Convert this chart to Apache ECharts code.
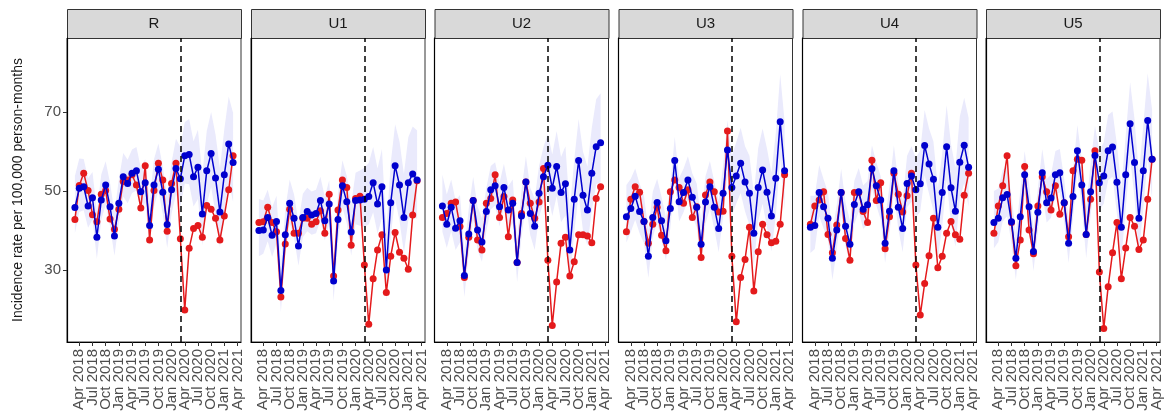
<!DOCTYPE html>
<html>
<head>
<meta charset="utf-8">
<script src="https://cdn.jsdelivr.net/npm/echarts@6/dist/echarts.min.js"></script>
<style>
  html, body { margin: 0; padding: 0; background: #fff; }
  #main { width: 1174px; height: 415px; }
</style>
</head>
<body>
<div id="main"></div>
<script>
// months counted from Jan 2018 = 0; data runs Mar 2018 .. Mar 2021
var firstMonth = 2;
var breakMonth = 26; // Mar 2020
var tickMonths = [3, 6, 9, 12, 15, 18, 21, 24, 27, 30, 33, 36, 39];
var tickLabels = ['Apr 2018', 'Jul 2018', 'Oct 2018', 'Jan 2019', 'Apr 2019', 'Jul 2019', 'Oct 2019',
                  'Jan 2020', 'Apr 2020', 'Jul 2020', 'Oct 2020', 'Jan 2021', 'Apr 2021'];
var yTicks = [30, 50, 70];
var panelNames = ['R', 'U1', 'U2', 'U3', 'U4', 'U5'];

// observed (red) and predicted (blue)
var obsR = [42.8,51.4,54.5,50.1,44.0,42.2,49.2,50.1,42.9,40.3,45.4,52.4,52.8,54.1,51.5,45.7,56.4,37.6,50.1,57.0,52.8,39.8,51.9,57.0,37.9,19.9,35.5,40.5,41.3,38.3,46.3,45.4,43.1,37.6,43.7,50.3,58.9];
var predR = [45.8,50.7,51.1,46.2,48.3,38.3,47.7,51.5,46.0,38.6,46.9,53.6,51.9,54.5,55.1,49.8,52.1,41.3,51.5,55.5,49.7,41.5,50.3,55.7,53.1,58.9,59.2,53.6,56.0,44.2,55.1,59.5,53.3,44.7,54.1,61.9,57.2];
var obsU1 = [42.0,42.2,45.9,42.0,39.7,23.2,36.6,45.4,39.3,39.3,43.1,43.1,41.6,42.2,45.0,39.3,49.2,28.5,45.2,52.8,50.9,36.3,48.1,48.7,31.3,16.3,27.8,35.1,38.9,24.3,33.5,39.5,34.5,33.0,30.2,43.9,52.6];
var predU1 = [40.0,40.1,43.3,38.8,42.3,24.8,38.9,46.9,43.1,36.1,43.3,44.8,43.9,44.3,47.6,42.5,46.7,27.2,42.8,51.3,47.3,39.6,47.6,47.7,47.9,48.6,52.1,46.7,51.1,30.0,47.0,56.4,51.5,43.3,52.1,54.3,52.8];
var obsU2 = [43.3,44.3,46.9,47.2,41.0,28.1,38.3,47.6,37.6,35.1,46.9,48.1,54.1,43.3,48.6,38.4,47.7,31.9,44.3,52.3,46.9,43.1,47.2,55.7,32.5,16.0,27.0,36.8,38.3,28.5,32.1,38.9,38.9,38.6,36.9,48.1,51.1];
var predU2 = [46.2,41.6,45.9,40.6,42.5,28.6,39.1,47.6,40.1,37.1,44.8,50.3,51.3,46.0,50.9,45.2,46.9,31.9,43.7,52.3,44.3,41.1,49.4,53.6,56.5,50.7,56.2,49.6,51.8,35.1,47.9,57.7,48.9,45.2,54.5,61.2,62.2];
var obsU3 = [39.7,47.9,51.1,49.7,42.3,36.8,41.6,45.9,38.8,34.9,49.8,52.8,50.9,46.9,50.3,43.3,46.0,33.2,49.0,52.3,49.8,44.7,44.9,65.2,33.5,16.9,28.1,32.7,40.8,24.7,34.6,41.6,38.9,36.9,37.3,41.6,54.1];
var predU3 = [43.5,45.6,48.7,44.8,42.3,33.5,43.3,47.1,42.5,37.4,45.6,57.7,47.3,49.6,52.8,48.4,45.9,36.5,47.2,51.1,45.9,40.5,49.4,60.4,50.9,53.8,57.0,52.3,49.4,39.3,50.9,55.3,49.7,43.7,53.2,67.5,55.1];
var obsU4 = [41.6,46.2,47.7,49.8,39.0,34.4,41.4,49.6,38.0,32.5,49.6,49.6,44.8,42.0,57.8,47.6,52.1,35.4,43.5,54.5,49.2,44.7,48.8,54.5,31.3,18.6,26.6,33.6,43.1,30.6,33.5,39.3,42.3,38.9,37.8,48.9,54.5];
var predU4 = [40.8,41.3,49.6,46.0,43.1,33.0,40.1,49.6,41.1,36.5,46.6,49.8,45.4,46.5,55.6,51.3,47.7,36.8,44.9,55.1,45.9,40.5,51.9,53.8,50.3,51.8,61.5,56.8,53.0,40.8,49.6,61.2,50.8,44.9,57.3,61.6,56.0];
var obsU5 = [39.3,46.2,51.3,58.9,42.0,31.1,37.6,56.2,40.1,34.1,46.2,53.6,49.8,45.2,51.3,44.1,47.0,38.4,55.1,58.0,57.8,39.0,47.9,60.2,29.5,15.2,25.8,34.4,42.0,27.8,35.6,43.3,41.1,35.2,37.6,47.9,58.0];
var predU5 = [42.0,43.1,48.3,49.1,42.2,33.0,43.5,54.1,46.0,34.7,44.6,54.6,47.0,48.2,54.1,54.6,47.0,36.8,48.6,60.2,51.5,39.0,49.8,59.0,52.1,53.8,60.2,61.1,52.2,40.8,54.1,67.0,57.2,43.1,55.1,67.8,58.0];

// half widths of the shaded interval around the blue line (above / below)
var bandUp = [8,7.5,7,7,6.5,6.5,6.5,6,6,6,6,6,6,6,6,6,6,6,6.5,6.5,6.5,7,7,7.5,8,8.5,9,9,9.5,10,10,10.5,11,11,11.5,12,12.5];
var bandDown = [6.5,6,6,5.5,5.5,5.5,5,5,5,5,5,5,5,5,5,5,5,5,5.5,5.5,5.5,6,6,6.5,7,7,7.5,7.5,8,8,8.5,8.5,9,9,9.5,9.5,10];

var obsList = [obsR, obsU1, obsU2, obsU3, obsU4, obsU5];
var predList = [predR, predU1, predU2, predU3, predU4, predU5];

var redCol = '#e41a1c';
var blueCol = '#0000cd';
var bandCol = '#eaeafc';
var font = "'Liberation Sans', Arial, sans-serif";

// layout
var lefts = [67, 251, 434.5, 618.5, 802.5, 986];
var pw = 174, top0 = 38, ph = 304;
var stripTop = 9, stripH = 29;

// labels are split over two overlaid axes so none get dropped as overlapping
var ticksA = tickMonths.filter(function(m, k) { return k % 2 === 0; });
var ticksB = tickMonths.filter(function(m, k) { return k % 2 === 1; });

function toPairs(arr) {
    return arr.map(function(v, i) { return [firstMonth + i, v]; });
}

function labelOf(v) { return tickLabels[tickMonths.indexOf(v)]; }

var grids = [], xAxes = [], yAxes = [], series = [], graphics = [];

panelNames.forEach(function(name, i) {
    grids.push({
        left: lefts[i], top: top0, width: pw, height: ph,
        show: true, borderColor: '#333', borderWidth: 1, backgroundColor: '#fff'
    });
    [ticksA, ticksB].forEach(function(tv, j) {
        xAxes.push({
            type: 'value', gridIndex: i, min: 0.2, max: 39.8, position: 'bottom', offset: 0,
            splitLine: { show: false },
            axisLine: { show: j === 0, onZero: false, lineStyle: { color: '#000', width: 1.2 } },
            axisTick: { show: j === 0, customValues: tickMonths, length: 4, lineStyle: { color: '#333' } },
            axisLabel: {
                customValues: tv, rotate: 90, margin: 7,
                showMinLabel: true, showMaxLabel: true, hideOverlap: false,
                fontSize: 15, color: '#4d4d4d', fontFamily: font,
                formatter: labelOf
            }
        });
    });
    var ya = {
        type: 'value', gridIndex: i, min: 11.8, max: 88.7,
        splitLine: { show: false },
        axisLine: { show: true, onZero: false, lineStyle: { color: '#000', width: 1.2 } },
        axisTick: { show: i === 0, customValues: yTicks, length: 4, lineStyle: { color: '#333' } },
        axisLabel: { show: i === 0, customValues: yTicks, fontSize: 15, color: '#4d4d4d', fontFamily: font, margin: 6 }
    };
    if (i === 0) {
        ya.name = 'Incidence rate per 100,000 person-months';
        ya.nameLocation = 'middle';
        ya.nameGap = 42;
        ya.nameRotate = 90;
        ya.nameTextStyle = { fontSize: 14, color: '#1a1a1a', fontFamily: font };
    }
    yAxes.push(ya);

    var xi = i * 2;
    var pred = predList[i];
    // shaded interval
    series.push({
        type: 'custom', xAxisIndex: xi, yAxisIndex: i, silent: true, z: 1,
        data: [[firstMonth, pred[0]]],
        renderItem: function(params, api) {
            var pts = [];
            for (var k = 0; k < pred.length; k++) pts.push(api.coord([firstMonth + k, pred[k] + bandUp[k]]));
            for (var k2 = pred.length - 1; k2 >= 0; k2--) pts.push(api.coord([firstMonth + k2, pred[k2] - bandDown[k2]]));
            return { type: 'polygon', shape: { points: pts }, style: { fill: bandCol } };
        }
    });
    series.push({
        type: 'line', xAxisIndex: xi, yAxisIndex: i, z: 3,
        data: toPairs(obsList[i]),
        symbol: 'circle', symbolSize: 7,
        itemStyle: { color: redCol },
        lineStyle: { color: redCol, width: 1.5 }
    });
    series.push({
        type: 'line', xAxisIndex: xi, yAxisIndex: i, z: 4,
        data: toPairs(pred),
        symbol: 'circle', symbolSize: 7,
        itemStyle: { color: blueCol },
        lineStyle: { color: blueCol, width: 1.5 },
        markLine: {
            silent: true, symbol: 'none', z: 6,
            label: { show: false },
            lineStyle: { color: '#000', type: [6, 4], width: 1.5 },
            data: [{ xAxis: breakMonth }]
        }
    });

    // facet strip
    graphics.push({
        type: 'rect', left: lefts[i], top: stripTop,
        shape: { width: pw, height: stripH },
        style: { fill: '#d9d9d9', stroke: '#333', lineWidth: 1 }
    });
    graphics.push({
        type: 'text', x: lefts[i] + pw / 2, y: stripTop + stripH / 2,
        style: { text: name, fill: '#1a1a1a', font: '15px ' + font, textAlign: 'center', textVerticalAlign: 'middle' }
    });
});

var chart = echarts.init(document.getElementById('main'));
chart.setOption({
    animation: false,
    grid: grids,
    xAxis: xAxes,
    yAxis: yAxes,
    series: series,
    graphic: graphics
});
</script>
</body>
</html>
